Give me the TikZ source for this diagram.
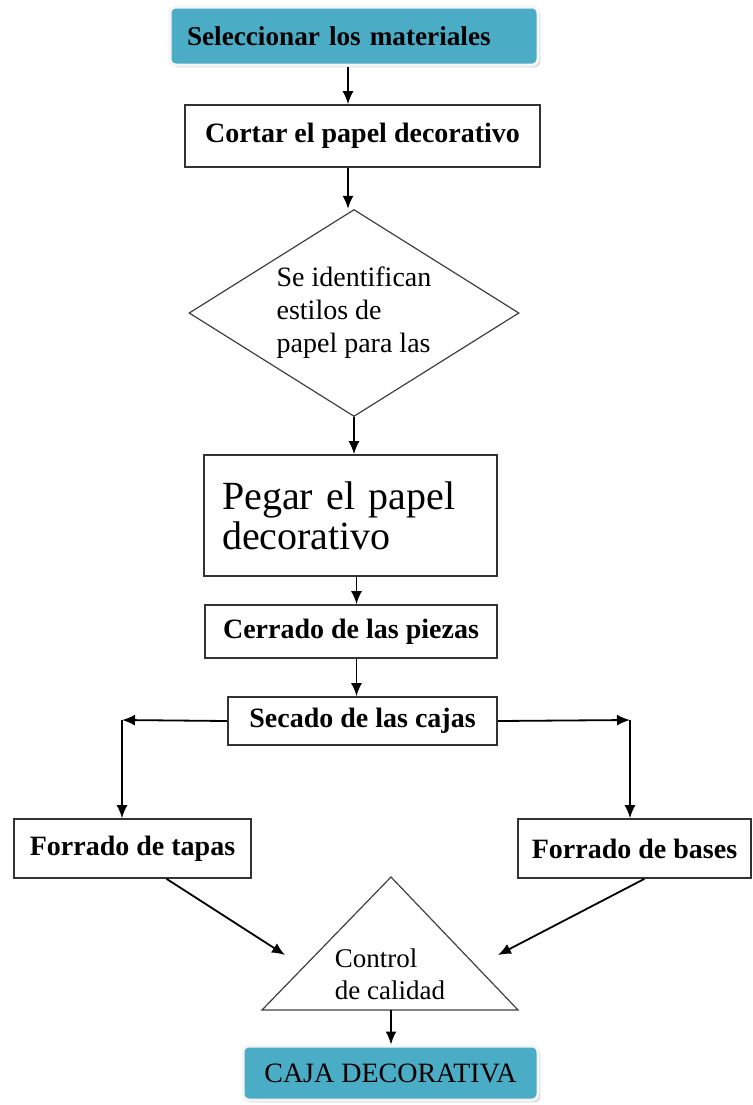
\documentclass[tikz,border=0pt]{standalone}
\usepackage{fontspec}
\setmainfont{Liberation Serif}
\usepackage{tikz}
\usetikzlibrary{shapes,arrows.meta,shadows}
\definecolor{aqua}{RGB}{75,172,198}
\tikzstyle{arrow} = [line width=0.9pt,-{Latex[length=6.5pt,width=5.5pt]}]
\tikzstyle{box} = [draw=black!80, line width=0.8pt, rectangle, align=center,
    inner sep=0.5ex, font=\fontsize{14}{16}\selectfont\bfseries]
\tikzstyle{aquabox} = [draw=white!92!gray, line width=1.5pt, fill=aqua, rounded corners=3pt,
    drop shadow={shadow xshift=1.2pt, shadow yshift=-1.2pt, fill=gray!60}, inner sep=0.5ex]

\begin{document}
\begin{tikzpicture}[x=0.5pt,y=-0.5pt]
    \useasboundingbox (0,0) rectangle (752,1105);
            \node[aquabox, minimum width=184pt, minimum height=29pt, text width=167pt,
                inner xsep=8.5pt, align=left, font=\fontsize{13.6}{16}\selectfont\bfseries]
                (sel) at (354,36) {Seleccionar los materiales};
            \node[box, minimum width=177.5pt, minimum height=31pt]
                (cortar) at (362.5,136) {Cortar el papel decorativo};
            \node[draw=black!75, line width=0.6pt, diamond, aspect=1.6, inner sep=0pt,
                minimum width=165pt, minimum height=103.5pt, align=left,
                font=\fontsize{14}{16.5}\selectfont]
                (dia) at (354,313) {Se identifican \\ estilos de \\ papel para las};
            \node[box, minimum width=146.5pt, minimum height=60.5pt, text width=128.5pt,
                inner xsep=9pt, align=left, font=\fontsize{20}{20}\selectfont]
                (pegar) at (350.5,515.5) {Pegar el papel \\ decorativo};
            \node[box, minimum width=146pt, minimum height=26.5pt]
                (cerrado) at (351,631.5) {Cerrado de las piezas};
            \node[box, minimum width=134.5pt, minimum height=24pt]
                (secado) at (362.5,721) {Secado de las cajas};
            \node[box, minimum width=118.5pt, minimum height=29.5pt]
                (tapas) at (132.5,848.5) {Forrado de tapas};
            \node[box, minimum width=116.5pt, minimum height=29.5pt]
                (bases) at (634.5,848.5) {Forrado de bases};
            % triangle
            \coordinate (ta) at (391,877);
            \coordinate (tbl) at (262,1010);
            \coordinate (tbr) at (518,1010);
            \coordinate (tb) at (391,1010);
            \draw[black!75, line width=0.6pt] (ta) -- (tbr) -- (tbl) -- cycle;
            \node[align=left, font=\fontsize{13.5}{16}\selectfont]
                (ctrl) at (390,974) {Control \\ de calidad};
            \node[aquabox, minimum width=147.5pt, minimum height=27pt, font=\fontsize{14}{16}\selectfont]
                (caja) at (390.5,1073) {CAJA DECORATIVA};
            % arrows
            \coordinate (lc) at (122,720);
            \coordinate (rc) at (630,720);
            \coordinate (tl) at (285,955);
            \coordinate (tr) at (498,955);
            \draw[arrow] ([xshift=-3pt]sel.south) -- ([xshift=-3pt]sel.south |- cortar.north);
            \draw[arrow] ([xshift=-3pt]sel.south |- cortar.south) -- ([xshift=-3pt]sel.south |- dia.north);
            \draw[arrow] (dia.south) -- (dia.south |- pegar.north);
            \draw[arrow] ([xshift=3pt]pegar.south) -- ([xshift=3pt]pegar.south |- cerrado.north);
            \draw[arrow] ([xshift=3pt]pegar.south |- cerrado.south) -- ([xshift=3pt]pegar.south |- secado.north);
            \draw[arrow] (secado.west) -- (lc);
            \draw[arrow] (lc) -- (lc |- tapas.north);
            \draw[arrow] (secado.east) -- (rc);
            \draw[arrow] (rc) -- (rc |- bases.north);
            \draw[arrow] ([xshift=17pt]tapas.south) -- (tl);
            \draw[arrow] ([xshift=5pt]bases.south) -- (tr);
            \draw[arrow] (tb) -- (tb |- caja.north);
        \end{tikzpicture}
\end{document}
